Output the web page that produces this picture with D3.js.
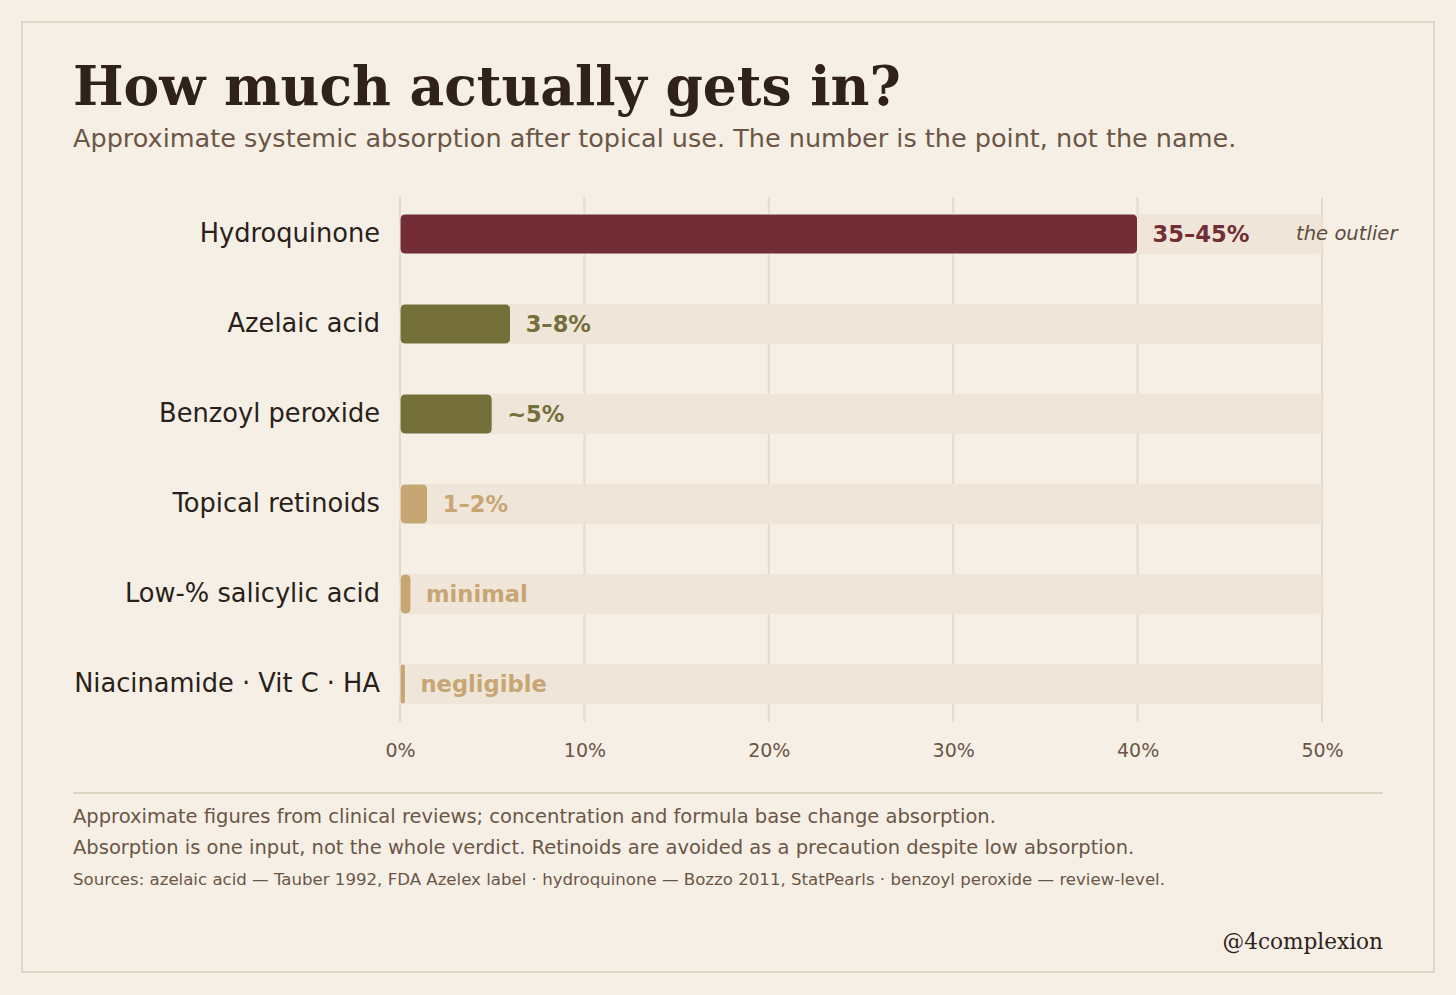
<!DOCTYPE html>
<html>
<head>
<meta charset="utf-8">
<script src="https://cdn.jsdelivr.net/npm/d3@7"></script>
<style>
  body { margin: 0; background: #f5efe6; }
  svg { display: block; }
</style>
</head>
<body>
<div id="chart-area"></div>
<script>
// Data
var ingredients = ["Hydroquinone", "Azelaic acid", "Benzoyl peroxide", "Topical retinoids", "Low-% salicylic acid", "Niacinamide \u00b7 Vit C \u00b7 HA"];
var absorption = [40, 6, 5, 1.5, 0.6, 0.3];
var valueLabels = ["35\u201345%", "3\u20138%", "~5%", "1\u20132%", "minimal", "negligible"];
var barColors = ["#722d37", "#756f3a", "#756f3a", "#c8a674", "#c8a674", "#c8a674"];
var xTicks = [0, 10, 20, 30, 40, 50];

var W = 1456, H = 995;
var margin = { left: 400, right: 134, top: 197, bottom: 273 };

var svg = d3.select("#chart-area")
  .append("svg")
  .attr("width", W)
  .attr("height", H);

svg.append("rect")
  .attr("width", W).attr("height", H)
  .attr("fill", "#f5efe6");

// frame
svg.append("rect")
  .attr("x", 22).attr("y", 22)
  .attr("width", 1412).attr("height", 950)
  .attr("fill", "none")
  .attr("stroke", "#e2d7c6")
  .attr("stroke-width", 2);

// Title + subtitle
svg.append("text")
  .attr("x", 73).attr("y", 105)
  .attr("font-family", "DejaVu Serif")
  .attr("font-weight", "bold")
  .attr("font-size", "53.5px")
  .attr("fill", "#2e221b")
  .text("How much actually gets in?");

svg.append("text")
  .attr("x", 73).attr("y", 147)
  .attr("font-family", "DejaVu Sans")
  .attr("font-size", "25.5px")
  .attr("fill", "#6b5646")
  .text("Approximate systemic absorption after topical use. The number is the point, not the name.");

var x = d3.scaleLinear()
  .domain([0, 50])
  .range([margin.left, W - margin.right]);

// step 90px, bar 40px, first bar top at 214
var y = d3.scaleBand()
  .domain(ingredients)
  .range([189, 189 + 90 * ingredients.length])
  .paddingInner(5 / 9)
  .paddingOuter(5 / 18);

var g = svg.append("g");

// gridlines
g.selectAll("line.grid")
  .data(xTicks)
  .enter()
  .append("line")
    .attr("class", "grid")
    .attr("x1", function(d){ return x(d); })
    .attr("x2", function(d){ return x(d); })
    .attr("y1", margin.top)
    .attr("y2", 722)
    .attr("stroke", "#e5dacb")
    .attr("stroke-width", 2);

// x axis labels
var xAxisCall = d3.axisBottom(x)
  .tickValues(xTicks)
  .tickSize(0)
  .tickPadding(0)
  .tickFormat(function(d){ return d + "%"; });

var xAxis = g.append("g")
  .attr("transform", "translate(0, 743)")
  .call(xAxisCall);
xAxis.select(".domain").remove();
xAxis.selectAll("text")
  .attr("font-family", "DejaVu Sans")
  .attr("font-size", "19px")
  .attr("fill", "#6b5646");

// background tracks
g.selectAll("rect.track")
  .data(ingredients)
  .enter()
  .append("rect")
    .attr("class", "track")
    .attr("x", x(0))
    .attr("y", function(d){ return y(d); })
    .attr("width", x(50) - x(0))
    .attr("height", y.bandwidth())
    .attr("rx", 5)
    .attr("fill", "#efe5d8");

var rows = ingredients.map(function(name, i){
  return { name: name, value: absorption[i], label: valueLabels[i], color: barColors[i] };
});

// bars
g.selectAll("rect.bar")
  .data(rows)
  .enter()
  .append("rect")
    .attr("class", "bar")
    .attr("x", x(0))
    .attr("y", function(d){ return y(d.name); })
    .attr("width", function(d){ return x(d.value) - x(0); })
    .attr("height", y.bandwidth())
    .attr("rx", function(d){ return Math.min(5, (x(d.value) - x(0)) / 2); })
    .attr("fill", function(d){ return d.color; })
    .attr("stroke", "#f5efe6")
    .attr("stroke-width", 1);

// category labels
g.selectAll("text.cat")
  .data(rows)
  .enter()
  .append("text")
    .attr("class", "cat")
    .attr("x", 380)
    .attr("y", function(d){ return y(d.name) + y.bandwidth() / 2; })
    .attr("dy", "0.33em")
    .attr("text-anchor", "end")
    .attr("font-family", "DejaVu Sans")
    .attr("font-size", "25.7px")
    .attr("fill", "#2a1f1a")
    .text(function(d){ return d.name; });

// value labels
g.selectAll("text.val")
  .data(rows)
  .enter()
  .append("text")
    .attr("class", "val")
    .attr("x", function(d){ return x(d.value) + 15; })
    .attr("y", function(d){ return y(d.name) + y.bandwidth() / 2; })
    .attr("dy", "0.36em")
    .attr("font-family", "DejaVu Sans")
    .attr("font-weight", "bold")
    .attr("font-size", "22.6px")
    .attr("fill", function(d){ return d.color; })
    .text(function(d){ return d.label; });

// annotation
g.append("text")
  .attr("x", 1296)
  .attr("y", y(ingredients[0]) + y.bandwidth() / 2)
  .attr("dy", "0.33em")
  .attr("font-family", "DejaVu Sans")
  .attr("font-style", "italic")
  .attr("font-size", "19.6px")
  .attr("fill", "#5e4c3f")
  .text("the outlier");

// footer
svg.append("line")
  .attr("x1", 73).attr("x2", 1383)
  .attr("y1", 793).attr("y2", 793)
  .attr("stroke", "#e0d5c4")
  .attr("stroke-width", 2);

var notes = [
  "Approximate figures from clinical reviews; concentration and formula base change absorption.",
  "Absorption is one input, not the whole verdict. Retinoids are avoided as a precaution despite low absorption."
];
svg.selectAll("text.note")
  .data(notes)
  .enter()
  .append("text")
    .attr("class", "note")
    .attr("x", 73)
    .attr("y", function(d, i){ return 823 + i * 31; })
    .attr("font-family", "DejaVu Sans")
    .attr("font-size", "19.5px")
    .attr("fill", "#6b5646")
    .text(function(d){ return d; });

svg.append("text")
  .attr("x", 73).attr("y", 885)
  .attr("font-family", "DejaVu Sans")
  .attr("font-size", "16.6px")
  .attr("fill", "#6b5646")
  .text("Sources: azelaic acid \u2014 Tauber 1992, FDA Azelex label \u00b7 hydroquinone \u2014 Bozzo 2011, StatPearls \u00b7 benzoyl peroxide \u2014 review-level.");

svg.append("text")
  .attr("x", 1383).attr("y", 949)
  .attr("text-anchor", "end")
  .attr("font-family", "DejaVu Serif")
  .attr("font-size", "21.6px")
  .attr("fill", "#2e221b")
  .text("@4complexion");
</script>
</body>
</html>
